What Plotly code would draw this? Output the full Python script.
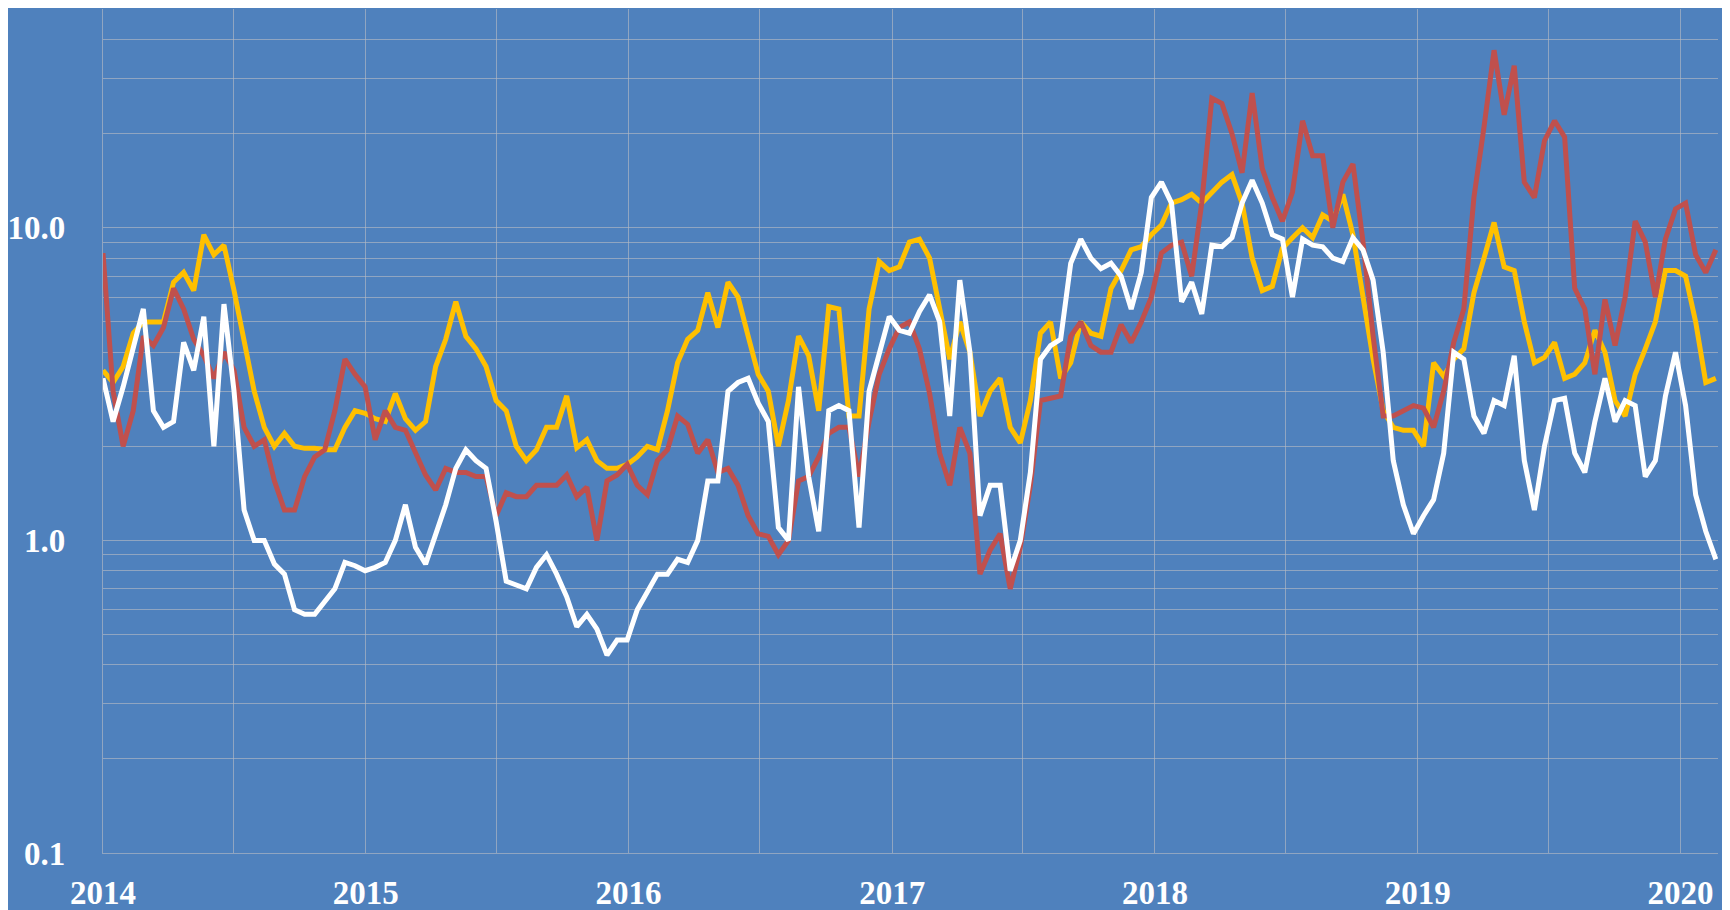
import pandas as pd
import plotly.graph_objects as go

# biweekly observation dates
start_date = "2014-01-01"
n_points = 161
dates = pd.date_range(start=start_date, periods=n_points, freq="14D")

red_values = [
    8.3, 3.0, 2.0, 2.6, 4.5, 4.2, 4.8, 6.4, 5.5, 4.4, 3.9, 3.3, 4.0, 3.5, 2.3, 2.0, 2.1, 1.55, 1.25, 1.25,
    1.6, 1.85, 1.95, 2.6, 3.8, 3.4,
    3.1, 2.1, 2.6, 2.3, 2.25, 1.9, 1.62, 1.45, 1.7, 1.65, 1.65, 1.6, 1.6, 1.2, 1.42, 1.38, 1.38, 1.5, 1.5, 1.5,
    1.62, 1.38, 1.48, 1.0, 1.55, 1.62,
    1.75, 1.5, 1.4, 1.8, 1.95, 2.5, 2.35, 1.9, 2.1, 1.65, 1.7, 1.5, 1.2, 1.05, 1.03, 0.9, 1.0, 1.55, 1.6, 1.85,
    2.2, 2.3, 2.3, 1.6, 2.4, 3.4, 4.1,
    4.8, 5.0, 4.1, 2.95, 1.9, 1.5, 2.3, 1.9, 0.78, 0.93, 1.05, 0.7, 0.95, 1.5, 2.8, 2.85, 2.9, 4.5, 5.0, 4.2,
    4.0, 4.0, 4.9, 4.3, 5.0,
    6.0, 8.3, 8.8, 9.0, 7.0, 12.0, 26, 25, 20, 15, 27, 15.5, 12.5, 10.5, 13, 22, 17, 17, 10, 14,
    16, 9.0, 4.5, 2.5, 2.5, 2.6,
    2.7, 2.65, 2.3, 3.0, 4.3, 5.5, 12.5, 21, 37, 23, 33, 14, 12.5, 19, 22, 19.5, 6.4, 5.5, 3.4, 5.9,
    4.2, 6.0, 10.5, 9.0, 6.0, 9.2, 11.5, 12.0, 8.2, 7.2, 8.5,
]

yellow_values = [
    3.5, 3.2, 3.6, 4.6, 5.0, 5.0, 5.0, 6.7, 7.2, 6.3, 9.5, 8.2, 8.8, 6.3, 4.3, 3.0, 2.3, 2.0, 2.2, 2.0,
    1.97, 1.97, 1.95, 1.95, 2.3, 2.6,
    2.55, 2.45, 2.4, 2.95, 2.45, 2.25, 2.4, 3.6, 4.4, 5.8, 4.5, 4.1, 3.6, 2.8, 2.6, 2.0, 1.8, 1.95, 2.3, 2.3,
    2.9, 1.98, 2.1, 1.8, 1.7, 1.7,
    1.75, 1.85, 2.0, 1.95, 2.6, 3.7, 4.4, 4.7, 6.2, 4.8, 6.7, 6.0, 4.5, 3.4, 3.0, 2.0, 2.8, 4.5, 3.9, 2.6,
    5.6, 5.5, 2.5, 2.5, 5.5, 7.8, 7.3,
    7.5, 9.0, 9.2, 8.0, 5.5, 3.8, 5.0, 4.0, 2.5, 3.0, 3.3, 2.3, 2.05, 2.8, 4.6, 5.0, 3.3, 3.7, 5.0, 4.6,
    4.5, 6.4, 7.3, 8.5, 8.7,
    9.5, 10.2, 12.0, 12.3, 12.8, 12.0, 13.0, 14.0, 14.8, 12.0, 8.0, 6.3, 6.5, 8.6, 9.3, 10.0, 9.3, 11.0, 10.5, 12.8,
    9.5, 6.0, 3.8, 2.6, 2.3, 2.25,
    2.25, 2.0, 3.7, 3.35, 3.8, 4.1, 6.2, 8.0, 10.4, 7.5, 7.3, 5.0, 3.7, 3.85, 4.3, 3.3, 3.4, 3.7, 4.7, 4.0,
    2.8, 2.5, 3.4, 4.1, 5.0, 7.3, 7.3, 7.0, 5.0, 3.2, 3.3,
]

white_values = [
    3.3, 2.4, 3.1, 4.2, 5.5, 2.6, 2.3, 2.4, 4.3, 3.5, 5.2, 2.0, 5.7, 3.0, 1.25, 1.0, 1.0, 0.84, 0.78, 0.60,
    0.58, 0.58, 0.64, 0.70, 0.85, 0.83,
    0.8, 0.82, 0.85, 1.0, 1.3, 0.95, 0.84, 1.05, 1.3, 1.7, 1.95, 1.8, 1.7, 1.15, 0.74, 0.72, 0.7, 0.82, 0.9, 0.78,
    0.66, 0.53, 0.58, 0.52, 0.43, 0.48,
    0.48, 0.6, 0.68, 0.78, 0.78, 0.87, 0.85, 1.0, 1.55, 1.55, 3.0, 3.2, 3.3, 2.75, 2.4, 1.1, 1.0, 3.1, 1.6, 1.07,
    2.6, 2.7, 2.6, 1.1, 3.0, 4.0, 5.2,
    4.7, 4.6, 5.4, 6.1, 5.0, 2.5, 6.8, 4.0, 1.2, 1.5, 1.5, 0.8, 1.0, 1.65, 3.8, 4.2, 4.4, 7.7, 9.2, 8.0,
    7.4, 7.7, 7.0, 5.5, 7.2,
    12.5, 14.0, 12.0, 5.8, 6.7, 5.3, 8.8, 8.7, 9.3, 12.0, 14.2, 12.0, 9.5, 9.2, 6.0, 9.2, 8.8, 8.7, 8.0, 7.8,
    9.3, 8.5, 6.8, 4.0, 1.8, 1.3,
    1.05, 1.2, 1.35, 1.9, 4.0, 3.8, 2.5, 2.2, 2.8, 2.7, 3.9, 1.8, 1.25, 2.0, 2.8, 2.85, 1.9, 1.65, 2.4, 3.3,
    2.4, 2.8, 2.7, 1.6, 1.8, 2.9, 4.0, 2.7, 1.4, 1.07, 0.87,
]

year_labels = ["2014", "2015", "2016", "2017", "2018", "2019", "2020"]
y_major = [0.1, 1, 10]
y_major_text = ["0.1", "1.0", "10.0"]
y_minor = [0.2, 0.3, 0.4, 0.5, 0.6, 0.7, 0.8, 0.9, 2, 3, 4, 5, 6, 7, 8, 9, 20, 30, 40, 50]

BG = "#4F81BD"
GRID = "rgba(180,185,195,0.65)"
FONT = dict(family="Liberation Serif", size=33, color="white", weight="bold")

x_tickvals = []
x_ticktext = []
for y in year_labels:
    x_tickvals.append(f"{y}-01-01")
    x_ticktext.append(y)
    if y != "2020":
        x_tickvals.append(f"{y}-07-01")
        x_ticktext.append("")

fig = go.Figure()
fig.add_trace(go.Scatter(x=dates, y=yellow_values, mode="lines",
                         line=dict(color="#FFC000", width=5), showlegend=False))
fig.add_trace(go.Scatter(x=dates, y=red_values, mode="lines",
                         line=dict(color="#C0504D", width=5), showlegend=False))
fig.add_trace(go.Scatter(x=dates, y=white_values, mode="lines",
                         line=dict(color="#FFFFFF", width=5), showlegend=False))

# page body has an 8px margin: the figure is sized/offset to compensate
fig.update_layout(
    width=1722, height=902,
    paper_bgcolor=BG, plot_bgcolor=BG,
    margin=dict(l=95, r=12, t=1, b=57, pad=0),
    font=FONT,
    xaxis=dict(
        type="date",
        range=["2014-01-01", "2020-02-22"],
        tickmode="array", tickvals=x_tickvals, ticktext=x_ticktext,
        showgrid=True, gridcolor=GRID, gridwidth=1.3,
        showline=True, linecolor=GRID, linewidth=1.3,
        zeroline=False, ticks="", tickfont=FONT,
        ticklabelstandoff=10, automargin=False,
    ),
    yaxis=dict(
        type="log",
        range=[-1, 1.7],
        tickmode="array", tickvals=y_major, ticktext=y_major_text,
        showgrid=True, gridcolor=GRID, gridwidth=1.3,
        minor=dict(tickvals=y_minor, showgrid=True, gridcolor=GRID, gridwidth=1.3, ticks=""),
        showline=True, linecolor=GRID, linewidth=1.3,
        zeroline=False, ticks="", tickfont=FONT,
        ticklabelstandoff=30, automargin=False,
    ),
)

fig.write_html("out.html")
